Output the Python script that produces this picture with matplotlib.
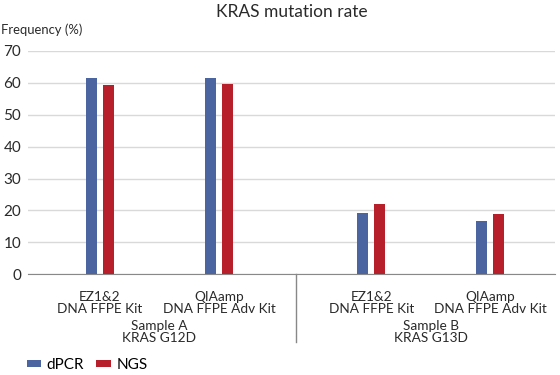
import numpy as np
import matplotlib
matplotlib.use("Agg")
import matplotlib.pyplot as plt

plt.rcParams['font.family'] = ['Lato', 'DejaVu Sans']

kits = ["EZ1&2\nDNA FFPE Kit", "QIAamp\nDNA FFPE Adv Kit",
        "EZ1&2\nDNA FFPE Kit", "QIAamp\nDNA FFPE Adv Kit"]
samples = ["Sample A\nKRAS G12D", "Sample B\nKRAS G13D"]
dpcr = [61.5, 61.5, 19.2, 16.8]
ngs = [59.2, 59.7, 22.0, 18.9]

blue = "#4a65a0"
red = "#b71f2a"

# category positions: two kits per sample, extra gap between samples
x = np.array([0.0, 1.0, 2.28, 3.28])
w = 0.095
off = 0.071

fig = plt.figure(figsize=(5.6, 3.75), dpi=100)
ax = fig.add_axes([0.05, 0.269, 0.941, 0.595])

ax.bar(x - off, dpcr, w, color=blue, label="dPCR", zorder=3)
ax.bar(x + off, ngs, w, color=red, label="NGS", zorder=3)

ax.set_ylim(0, 70)
ax.set_xlim(-0.605, 3.824)
ax.set_yticks(range(0, 71, 10))
ax.yaxis.grid(True, color="#d9d9d9", lw=1)
ax.tick_params(axis="y", length=0, labelsize=11, colors="#2a2a2a", pad=5)
ax.set_xticks(x)
ax.set_xticklabels(kits, fontsize=9.8, color="#2a2a2a", linespacing=1.05)
ax.tick_params(axis="x", length=0, pad=12)
for s in ["top", "right", "left"]:
    ax.spines[s].set_visible(False)
ax.spines["bottom"].set_color("#888888")

# sample group labels and separator
ax.plot([1.647, 1.647], [0, -0.305], transform=ax.get_xaxis_transform(),
        color="#888888", lw=1, clip_on=False)
for i, s in enumerate(samples):
    cx = (x[2 * i] + x[2 * i + 1]) / 2
    ax.text(cx, -0.205, s, transform=ax.get_xaxis_transform(), ha="center",
            va="top", fontsize=9.8, color="#2a2a2a", linespacing=1.05)

fig.text(0.002, 0.92, "Frequency (%)", fontsize=9.4, color="#2a2a2a", va="center")
fig.text(0.521, 0.968, "KRAS mutation rate", fontsize=12.5, color="#2a2a2a",
         ha="center", va="center")

fig.legend(loc="center left", bbox_to_anchor=(0.037, 0.027), ncol=2, frameon=False,
           fontsize=11, handlelength=0.95, handleheight=0.35, handletextpad=0.35,
           columnspacing=0.8, borderaxespad=0)

fig.savefig("out.png", dpi=100)
